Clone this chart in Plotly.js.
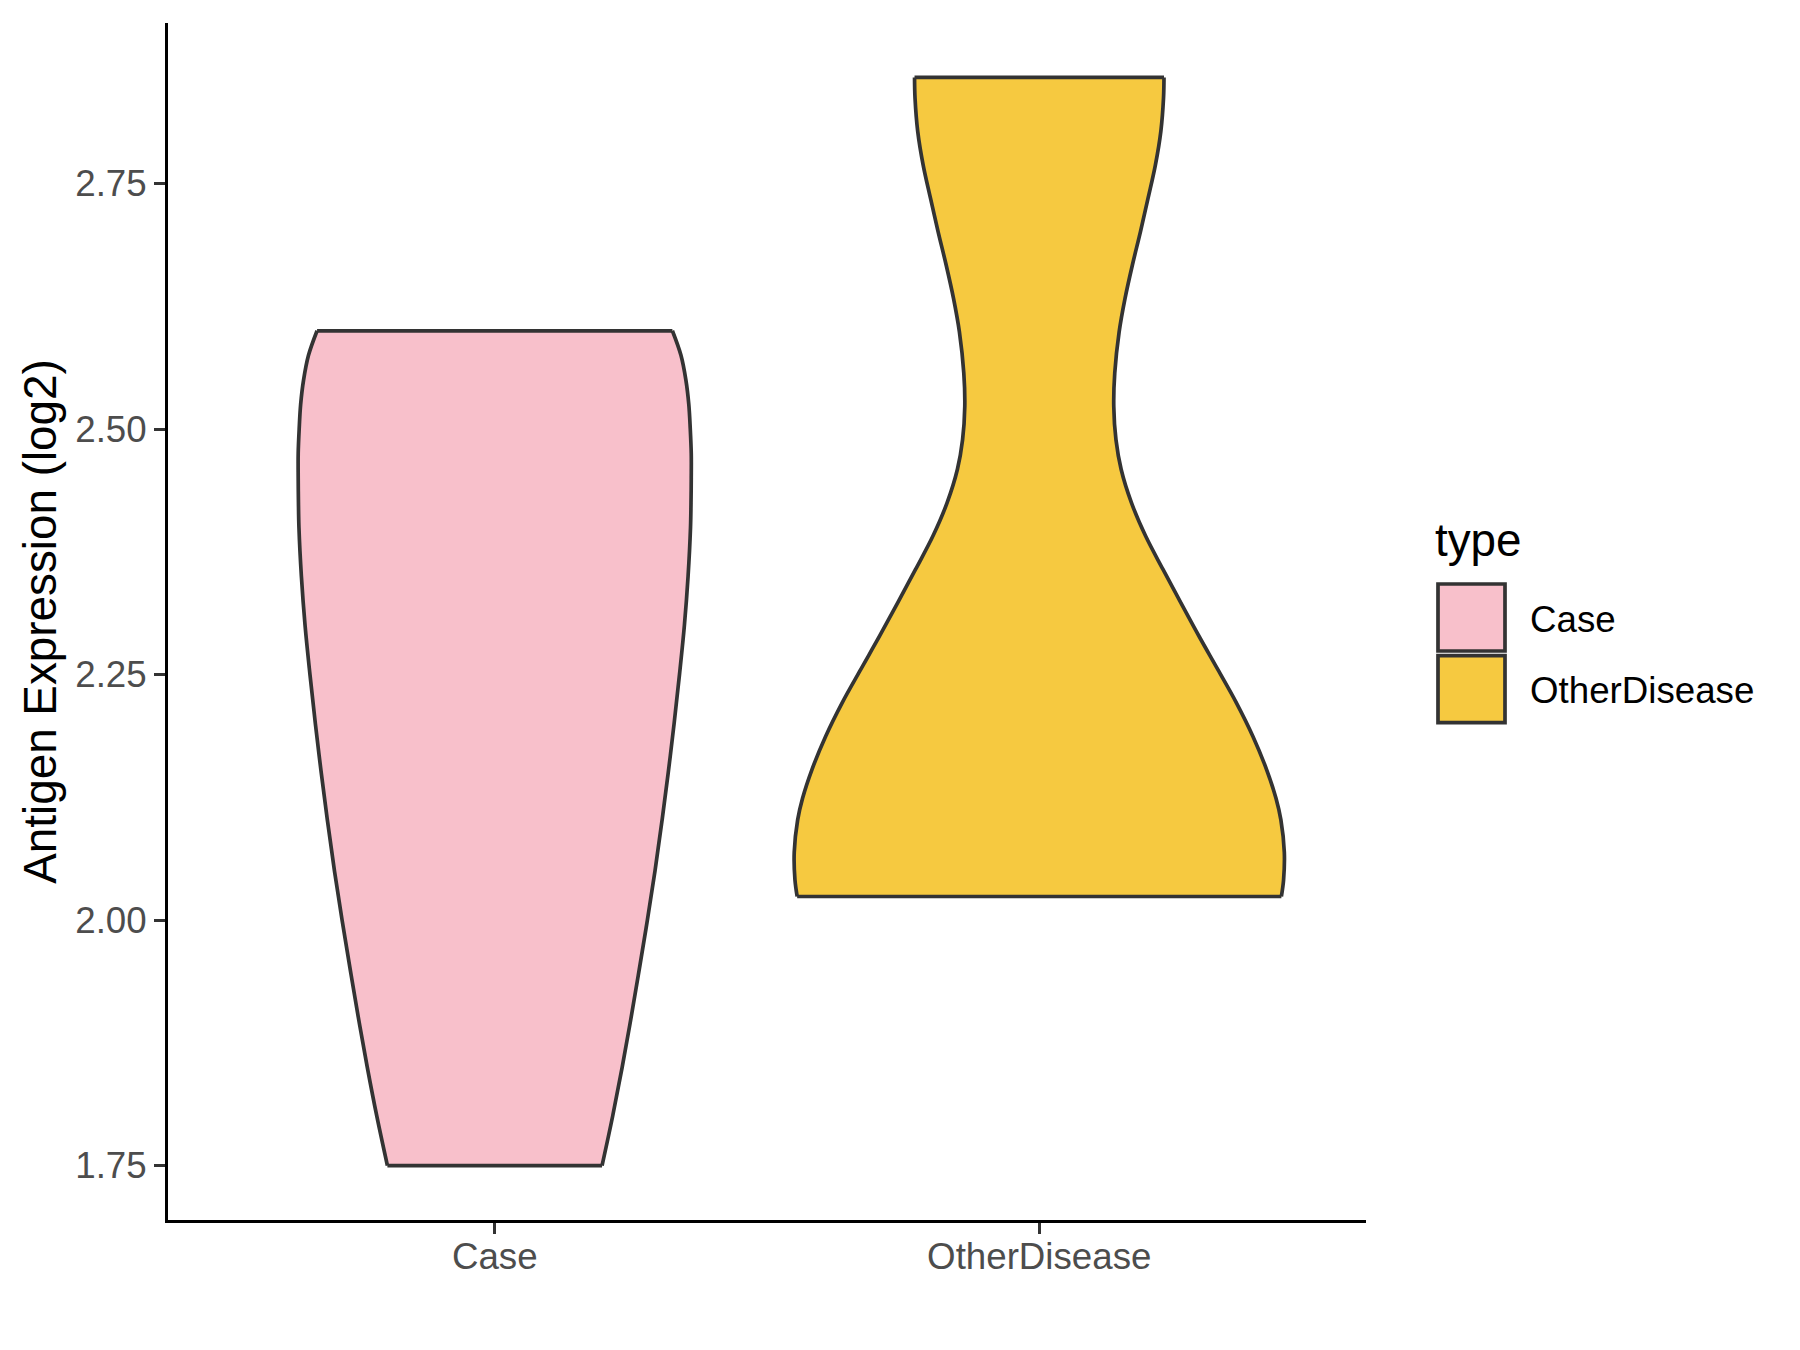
<!DOCTYPE html>
<html>
<head>
<meta charset="utf-8">
<script src="https://cdn.plot.ly/plotly-3.0.1.min.js"></script>
<style>html,body{margin:0;padding:0;background:#fff;}#chart{width:1800px;height:1350px;}</style>
</head>
<body>
<div id="chart"></div>
<script>
// ---- data ----
const categories = ['Case', 'OtherDisease'];
// expression levels (log2), top to bottom, and relative violin density at each level
const caseY = [2.600, 2.575, 2.550, 2.525, 2.500, 2.475, 2.450, 2.425, 2.400, 2.350, 2.300, 2.250, 2.200, 2.150, 2.100, 2.050, 2.000, 1.950, 1.900, 1.850, 1.800, 1.750];
const caseDensity = [0.725, 0.760, 0.780, 0.792, 0.798, 0.802, 0.802, 0.801, 0.799, 0.789, 0.774, 0.754, 0.732, 0.708, 0.682, 0.654, 0.623, 0.590, 0.556, 0.520, 0.481, 0.438];
const otherY = [2.858, 2.837, 2.803, 2.769, 2.735, 2.701, 2.667, 2.633, 2.599, 2.557, 2.523, 2.489, 2.459, 2.425, 2.391, 2.357, 2.323, 2.289, 2.255, 2.221, 2.187, 2.153, 2.124, 2.102, 2.069, 2.041, 2.024];
const otherDensity = [0.509, 0.507, 0.496, 0.474, 0.444, 0.413, 0.380, 0.350, 0.326, 0.308, 0.304, 0.313, 0.334, 0.376, 0.434, 0.505, 0.578, 0.652, 0.729, 0.805, 0.872, 0.928, 0.966, 0.986, 1.000, 0.997, 0.988];
const fillColors = ['#F8C0CB', '#F6C940'];
const yTickVals = [1.75, 2.00, 2.25, 2.50, 2.75];
const yTickText = ['1.75', '2.00', '2.25', '2.50', '2.75'];
const legendTitle = 'type';
const yTitle = 'Antigen Expression (log2)';

// ---- styling ----
const FONT = 'Liberation Sans, Arial, Helvetica, sans-serif';
const OUTLINE = '#333333';
const LW = 3.7;
const HALF = 0.45; // max half-width of a violin in category units

const groups = [
  {name: categories[0], y: caseY, d: caseDensity, color: fillColors[0]},
  {name: categories[1], y: otherY, d: otherDensity, color: fillColors[1]}
];

const traces = [];
groups.forEach((g, i) => {
  const c = i + 1;
  const line = {shape: 'spline', smoothing: 1, color: OUTLINE, width: LW, simplify: false};
  traces.push({type: 'scatter', mode: 'lines', x: g.d.map(v => c - HALF * v), y: g.y,
    line: line, hoverinfo: 'skip', showlegend: false});
  traces.push({type: 'scatter', mode: 'lines', x: g.d.map(v => c + HALF * v), y: g.y,
    fill: 'tonextx', fillcolor: g.color, line: line, name: g.name, showlegend: false});
  const n = g.y.length - 1;
  traces.push({type: 'scatter', mode: 'lines',
    x: [c - HALF * g.d[0], c + HALF * g.d[0], null, c - HALF * g.d[n], c + HALF * g.d[n]],
    y: [g.y[0], g.y[0], null, g.y[n], g.y[n]],
    line: {color: OUTLINE, width: LW}, hoverinfo: 'skip', showlegend: false, connectgaps: false});
});

// y range like ggplot (5% expansion of data range)
const allY = caseY.concat(otherY);
const ymin = Math.min(...allY), ymax = Math.max(...allY);
const span = ymax - ymin;
const yRange = [ymin - 0.05 * span, ymax + 0.05 * span];

// plot area in pixels
const W = 1800, H = 1350;
const M = {l: 168, r: 434, t: 23, b: 130};
const pw = W - M.l - M.r, ph = H - M.t - M.b;
const px = x => (x - M.l) / pw;
const py = y => (H - M.b - y) / ph;

// custom ggplot-like legend
const shapes = [];
const annotations = [];
annotations.push({xref: 'paper', yref: 'paper', x: px(1433), y: py(540), xanchor: 'left', yanchor: 'middle',
  text: legendTitle, showarrow: false, font: {family: FONT, size: 45.8, color: '#000000'}});
groups.forEach((g, i) => {
  const top = 584 + i * 71.7;
  shapes.push({type: 'rect', xref: 'paper', yref: 'paper', x0: px(1438), x1: px(1505), y0: py(top), y1: py(top + 67),
    fillcolor: g.color, line: {color: OUTLINE, width: LW}});
  annotations.push({xref: 'paper', yref: 'paper', x: px(1528), y: py(top + 35), xanchor: 'left', yanchor: 'middle',
    text: g.name, showarrow: false, font: {family: FONT, size: 36.7, color: '#000000'}});
});

const layout = {
  width: W, height: H,
  margin: M,
  paper_bgcolor: '#ffffff', plot_bgcolor: '#ffffff',
  font: {family: FONT},
  showlegend: false,
  xaxis: {
    range: [0.4, 2.6], tickvals: [1, 2], ticktext: categories,
    showgrid: false, zeroline: false, showline: true, linecolor: '#000000', linewidth: 3,
    ticks: 'outside', ticklen: 11, tickwidth: 3, tickcolor: OUTLINE,
    tickfont: {family: FONT, size: 36.7, color: '#4D4D4D'}, ticklabelstandoff: -9, fixedrange: true
  },
  yaxis: {
    range: yRange, tickvals: yTickVals, ticktext: yTickText,
    showgrid: false, zeroline: false, showline: true, linecolor: '#000000', linewidth: 3,
    ticks: 'outside', ticklen: 11, tickwidth: 3, tickcolor: OUTLINE,
    tickfont: {family: FONT, size: 36.7, color: '#4D4D4D'}, ticklabelstandoff: 0,
    title: {text: yTitle, font: {family: FONT, size: 45.8, color: '#000000'}, standoff: 5},
    fixedrange: true
  },
  shapes: shapes,
  annotations: annotations
};

Plotly.newPlot('chart', traces, layout, {displayModeBar: false, staticPlot: true});
</script>
</body>
</html>
